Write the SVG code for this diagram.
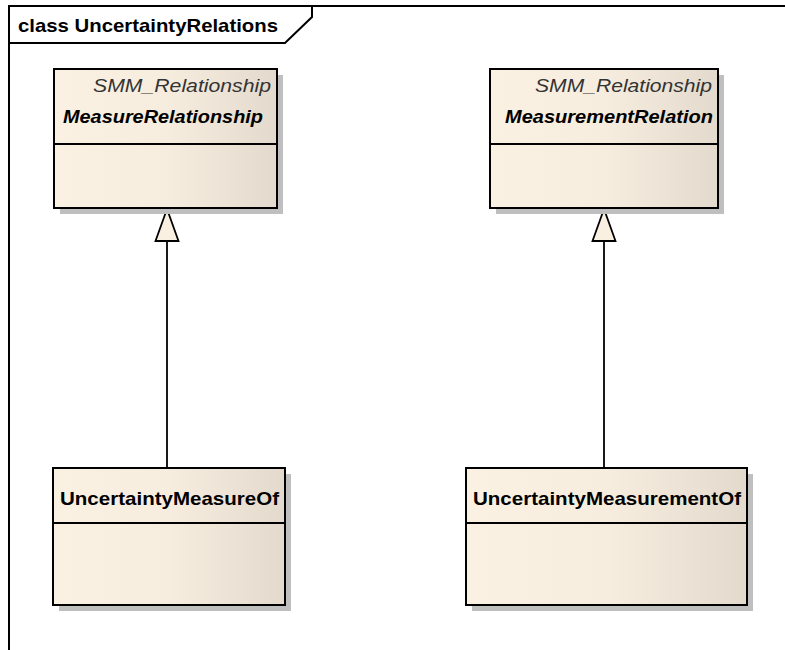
<svg xmlns="http://www.w3.org/2000/svg" width="785" height="650" viewBox="0 0 785 650">
<defs>
<linearGradient id="fillG" x1="0" y1="0" x2="1" y2="0">
<stop offset="0" stop-color="#FBF1E3"/>
<stop offset="0.5" stop-color="#F7EDDF"/>
<stop offset="1" stop-color="#E3DACD"/>
</linearGradient>
<style>
.frame{fill:none;stroke:#000;stroke-width:2}
.shadow{fill:#BFBFBF}
.box{fill:url(#fillG);stroke:#000;stroke-width:2}
.div{stroke:#000;stroke-width:1.8}
.conn{stroke:#000;stroke-width:1.8;fill:none}
.tri{fill:#FAF0E2;stroke:#000;stroke-width:1.8;stroke-linejoin:miter}
.title{font-family:"Liberation Sans",Arial,sans-serif;font-weight:bold;font-size:19px;fill:#000}
.stereo{font-family:"Liberation Sans",Arial,sans-serif;font-style:italic;font-size:18px;fill:#333}
.absname{font-family:"Liberation Sans",Arial,sans-serif;font-style:italic;font-weight:bold;font-size:19px;fill:#000}
.name{font-family:"Liberation Sans",Arial,sans-serif;font-weight:bold;font-size:19px;fill:#000}
</style>
</defs>
<rect width="785" height="650" fill="#FFFFFF"/>
<g id="frame">
<path class="frame" d="M9,650 V6 H785"/>
<path class="frame" d="M9,43 H285 L312,17 V6"/>
<text class="title" x="18" y="32" textLength="260" lengthAdjust="spacingAndGlyphs">class UncertaintyRelations</text>
</g>
<g id="connectors">
<line class="conn" x1="167" y1="468" x2="167" y2="241"/>
<polygon class="tri" points="167,209 155.5,241 178.5,241"/>
<line class="conn" x1="604" y1="468" x2="604" y2="241"/>
<polygon class="tri" points="604,209 592.5,241 615.5,241"/>
</g>
<g id="MeasureRelationship">
<rect class="shadow" x="60" y="75" width="223" height="139"/>
<rect class="box" x="54" y="69" width="223" height="139"/>
<line class="div" x1="54" y1="144" x2="277" y2="144"/>
<text class="stereo" x="271" y="92" text-anchor="end" textLength="178" lengthAdjust="spacingAndGlyphs">SMM_Relationship</text>
<text class="absname" x="63" y="123" textLength="200" lengthAdjust="spacingAndGlyphs">MeasureRelationship</text>
</g>
<g id="MeasurementRelation">
<rect class="shadow" x="496" y="75" width="228" height="139"/>
<rect class="box" x="490" y="69" width="228" height="139"/>
<line class="div" x1="490" y1="144" x2="718" y2="144"/>
<text class="stereo" x="712" y="92" text-anchor="end" textLength="177" lengthAdjust="spacingAndGlyphs">SMM_Relationship</text>
<text class="absname" x="505" y="123" textLength="208" lengthAdjust="spacingAndGlyphs">MeasurementRelation</text>
</g>
<g id="UncertaintyMeasureOf">
<rect class="shadow" x="59" y="474" width="232" height="137"/>
<rect class="box" x="53" y="468" width="232" height="137"/>
<line class="div" x1="53" y1="523" x2="285" y2="523"/>
<text class="name" x="60" y="505" textLength="219" lengthAdjust="spacingAndGlyphs">UncertaintyMeasureOf</text>
</g>
<g id="UncertaintyMeasurementOf">
<rect class="shadow" x="472" y="474" width="281" height="137"/>
<rect class="box" x="466" y="468" width="281" height="137"/>
<line class="div" x1="466" y1="523" x2="747" y2="523"/>
<text class="name" x="473" y="505" textLength="268" lengthAdjust="spacingAndGlyphs">UncertaintyMeasurementOf</text>
</g>
</svg>
